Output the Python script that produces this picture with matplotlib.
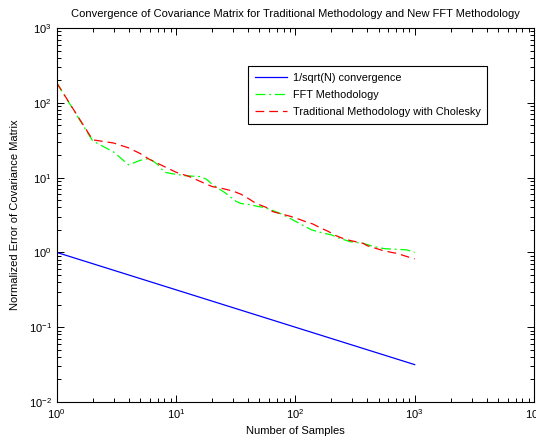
import matplotlib
matplotlib.use("Agg")
import matplotlib.pyplot as plt

# values
blue_x = [1, 1000]
blue_y = [1.0, 0.0316]

fft_x = [1, 2, 3, 4, 5, 6, 7, 8, 9.5, 12, 16, 18, 20, 26, 32, 35, 40, 49, 54, 63,
         75, 90, 110, 137, 166, 202, 222, 288, 372, 450, 560, 710, 860, 1000]
fft_y = [185, 31, 22, 14.8, 17, 18, 15, 11.8, 11.2, 10.6, 10.3, 9.5, 8.2, 6.2, 4.8, 4.5, 4.4, 4.1, 4.0, 3.7,
         3.3, 2.86, 2.4, 2.0, 1.83, 1.71, 1.59, 1.39, 1.32, 1.2, 1.12, 1.1, 1.08, 1.0]

chol_x = [1, 2, 3, 4, 5, 6, 8, 10, 13, 17, 20, 25, 30, 35, 40, 47, 57, 65, 77, 90,
          106, 120, 140, 160, 190, 210, 260, 290, 370, 400, 530, 640, 710, 860, 1000]
chol_y = [185, 32, 29, 25, 21, 17.5, 14, 11.8, 10.3, 8.5, 7.6, 7.1, 6.6, 6.0, 5.3, 4.5, 4.0, 3.5, 3.25, 3.05,
          2.8, 2.6, 2.4, 2.15, 1.9, 1.72, 1.5, 1.44, 1.32, 1.23, 1.07, 1.0, 0.97, 0.88, 0.82]

plt.rcParams['font.family'] = ['Liberation Sans', 'DejaVu Sans']
plt.rcParams['font.size'] = 8

fig = plt.figure(figsize=(5.36, 4.45), dpi=100)
ax = fig.add_axes([56.7 / 536, 1 - 402 / 445, (534 - 56.7) / 536, (402 - 28) / 445])

ax.loglog(blue_x, blue_y, color=(0, 0, 1), lw=0.9, label='1/sqrt(N) convergence')
ax.loglog(fft_x, fft_y, color=(0, 1, 0), lw=0.9, dashes=[8, 3, 1.5, 3], label='FFT Methodology')
ax.loglog(chol_x, chol_y, color=(1, 0, 0), lw=0.9, dashes=[7, 4], label='Traditional Methodology with Cholesky')

ax.set_xlim(1, 1e4)
ax.set_ylim(1e-2, 1e3)
ax.tick_params(which='both', direction='in', top=True, right=True, width=0.7)
ax.tick_params(which='major', length=5)
ax.tick_params(which='minor', length=3)
for s in ax.spines.values():
    s.set_linewidth(0.8)

ax.set_title('Convergence of Covariance Matrix for Traditional Methodology and New FFT Methodology',
             fontsize=8, pad=8)
ax.set_xlabel('Number of Samples')
ax.set_ylabel('Normalized Error of Covariance Matrix', labelpad=6)

leg = ax.legend(loc='upper left', bbox_to_anchor=(0.40, 0.898), borderaxespad=0,
                fancybox=False, framealpha=1, edgecolor='black', handlelength=3.0,
                handletextpad=0.5, borderpad=0.65, labelspacing=0.65, fontsize=7.8)
leg.get_frame().set_linewidth(0.8)

fig.savefig('out.png', dpi=100)
